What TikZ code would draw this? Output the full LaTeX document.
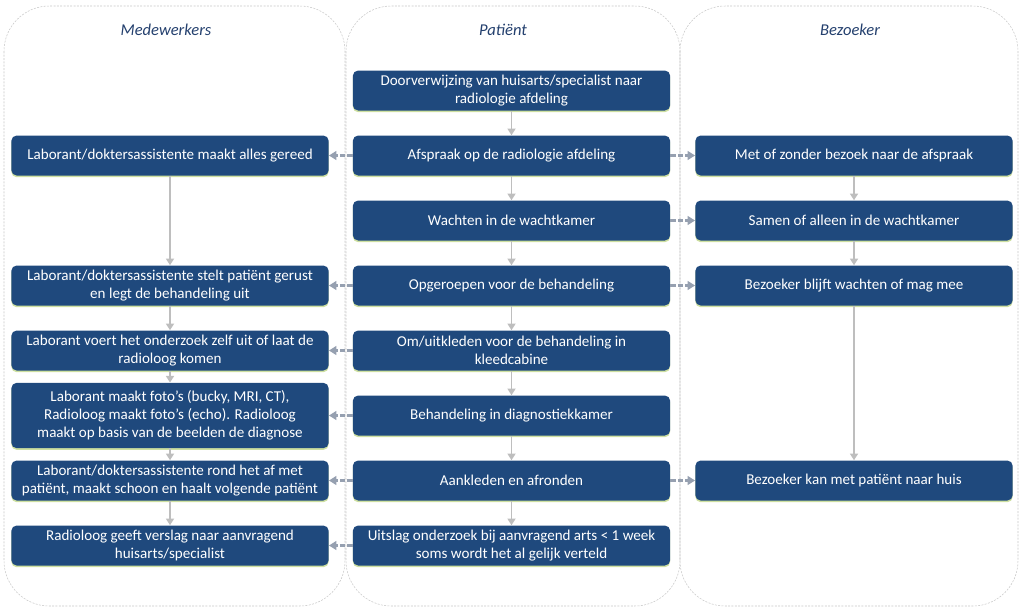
\documentclass[tikz,border=0pt]{standalone}
\usepackage{fontspec}
\setmainfont{Carlito}
\usetikzlibrary{arrows.meta,shadows}
\definecolor{boxblue}{RGB}{31,73,125}
\definecolor{titleblue}{RGB}{36,64,110}
\definecolor{flowgray}{RGB}{190,190,190}
\definecolor{linkgray}{RGB}{150,160,176}
\definecolor{glowgreen}{RGB}{200,220,150}
\tikzset{
	lane/.style={draw=black!22,line width=0.4pt,dash pattern=on 1.5pt off 1pt,rounded corners=34pt},
	lanetitle/.style={font=\itshape\fontsize{12.4}{14}\selectfont,text=titleblue},
	stepbox/.style={fill=boxblue,text=white,rounded corners=4pt,minimum width=238pt,minimum height=30pt,
		inner sep=2pt,align=center,font=\fontsize{11.3}{13.5}\selectfont,
		drop shadow={shadow xshift=0pt,shadow yshift=-1.3pt,fill=glowgreen,opacity=0.9}},
	flow/.style={-{Triangle[length=5pt,width=6pt]},draw=flowgray,line width=1.4pt},
	link/.style={-{Triangle[length=5.5pt,width=6.5pt]},draw=linkgray,line width=1.7pt,dash pattern=on 4pt off 1.5pt}
}

\begin{document}
\begin{tikzpicture}[x=0.75pt,y=-0.75pt]
	\useasboundingbox (0,0) rectangle (1024,611);
	
	\foreach \xa/\xb in {4/345,346/680,680/1018}
	\draw[lane] (\xa,6) rectangle (\xb,606);
	
	\node[lanetitle] (medewerkers) at (166,30) {Medewerkers};
	\node[lanetitle] (patient) at (503,30) {Patiënt};
	\node[lanetitle] (bezoeker) at (850,30) {Bezoeker};
	
	\node[stepbox] (doorverwijzing) at (511.5,90.5) {Doorverwijzing van huisarts/specialist naar\\radiologie afdeling};
	\node[stepbox] (afspraak) at (511.5,155.5) {Afspraak op de radiologie afdeling};
	\node[stepbox] (wachten) at (511.5,220.5) {Wachten in de wachtkamer};
	\node[stepbox] (opgeroepen) at (511.5,285.5) {Opgeroepen voor de behandeling};
	\node[stepbox] (omkleden) at (511.5,350.5) {Om/uitkleden voor de behandeling in\\kleedcabine};
	\node[stepbox] (behandeling) at (511.5,415.5) {Behandeling in diagnostiekkamer};
	\node[stepbox] (aankleden) at (511.5,480.5) {Aankleden en afronden};
	\node[stepbox] (uitslag) at (511.5,545.5) {Uitslag onderzoek bij aanvragend arts < 1 week\\soms wordt het al gelijk verteld};
	
	\node[stepbox] (gereed) at (170,155.5) {Laborant/doktersassistente maakt alles gereed};
	\node[stepbox] (gerust) at (170,285.5) {Laborant/doktersassistente stelt patiënt gerust\\en legt de behandeling uit};
	\node[stepbox] (onderzoek) at (170,350.5) {Laborant voert het onderzoek zelf uit of laat de\\radioloog komen};
	\node[stepbox,minimum height=49pt] (fotos) at (170,415.5) {Laborant maakt foto’s (bucky, MRI, CT),\\Radioloog maakt foto’s (echo). Radioloog\\maakt op basis van de beelden de diagnose};
	\node[stepbox] (afronden) at (170,480.5) {Laborant/doktersassistente rond het af met\\patiënt, maakt schoon en haalt volgende patiënt};
	\node[stepbox] (verslag) at (170,545.5) {Radioloog geeft verslag naar aanvragend\\huisarts/specialist};
	
	\node[stepbox] (bezoek) at (854,155.5) {Met of zonder bezoek naar de afspraak};
	\node[stepbox] (wachtkamer) at (854,220.5) {Samen of alleen in de wachtkamer};
	\node[stepbox] (meegaan) at (854,285.5) {Bezoeker blijft wachten of mag mee};
	\node[stepbox] (naarhuis) at (854,480.5) {Bezoeker kan met patiënt naar huis};
	
	\foreach \a/\b in {doorverwijzing/afspraak,afspraak/wachten,wachten/opgeroepen,opgeroepen/omkleden,
		omkleden/behandeling,behandeling/aankleden,aankleden/uitslag,
		gereed/gerust,gerust/onderzoek,onderzoek/fotos,fotos/afronden,afronden/verslag,
		bezoek/wachtkamer,wachtkamer/meegaan,meegaan/naarhuis}
	\draw[flow] (\a) -- (\b);
	
	\foreach \a/\b in {afspraak/gereed,afspraak/bezoek,wachten/wachtkamer,opgeroepen/gerust,opgeroepen/meegaan,
		omkleden/onderzoek,behandeling/fotos,aankleden/afronden,aankleden/naarhuis,uitslag/verslag}
	\draw[link] (\a) -- (\b);
\end{tikzpicture}
\end{document}
